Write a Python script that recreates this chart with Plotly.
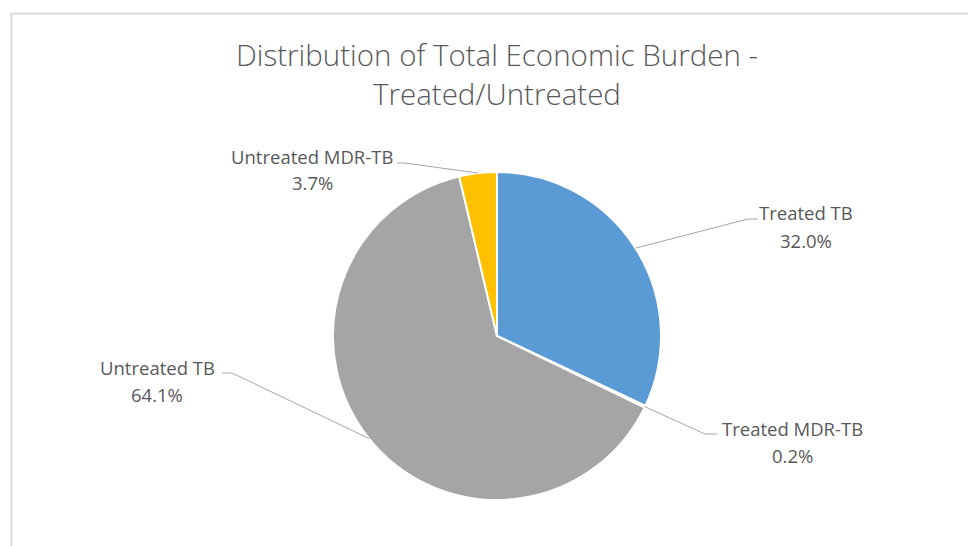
import math
import plotly.graph_objects as go

# Share of total economic burden, in slice order (clockwise from 12 o'clock)
categories = ["Treated TB", "Treated MDR-TB", "Untreated TB", "Untreated MDR-TB"]
shares = [32.0, 0.2, 64.1, 3.7]
colors = ["#5B9BD5", "#ED7D31", "#A5A5A5", "#FFC000"]

W, H = 968, 546
CX, CY, R = 497, 336, 164          # pie centre and radius in pixels
TEXT = "#595959"
LEADER = "#A6A6A6"
FONT = "Open Sans"


def fx(px):
    return px / W


def fy(py):
    return 1 - py / H


# Label placement: (label centre x, name line y, elbow point, horizontal stub end)
label_layout = {
    "Treated TB":       dict(cx=806, y=213, elbow=(748, 219), stub=(758, 219)),
    "Treated MDR-TB":   dict(cx=792, y=428, elbow=(705, 434), stub=(717, 434)),
    "Untreated TB":     dict(cx=157, y=367, elbow=(232, 373), stub=(222, 373)),
    "Untreated MDR-TB": dict(cx=312, y=156, elbow=(405, 163), stub=(397, 163)),
}

fig = go.Figure(
    go.Pie(
        labels=categories,
        values=shares,
        sort=False,
        direction="clockwise",
        rotation=0,
        marker=dict(colors=colors, line=dict(color="white", width=2)),
        textinfo="none",
        hoverinfo="label+percent",
        showlegend=False,
        domain=dict(x=[fx(CX - R), fx(CX + R)], y=[fy(CY + R), fy(CY - R)]),
    )
)

shapes = [
    # chart area frame
    dict(type="rect", xref="paper", yref="paper",
         x0=fx(11.5), y0=fy(560), x1=fx(990), y1=fy(13.5),
         line=dict(color="#D9D9D9", width=2), fillcolor="rgba(0,0,0,0)", layer="below"),
]
annotations = []

total = sum(shares)
cum = 0.0
for name, val in zip(categories, shares):
    mid = (cum + val / 2) / total * 2 * math.pi
    cum += val
    ex = CX + R * math.sin(mid)
    ey = CY - R * math.cos(mid)
    lay = label_layout[name]
    (bx, by), (sx, sy) = lay["elbow"], lay["stub"]
    path = f"M {fx(ex)} {fy(ey)} L {fx(bx)} {fy(by)} L {fx(sx)} {fy(sy)}"
    shapes.append(dict(type="path", xref="paper", yref="paper", path=path,
                       line=dict(color=LEADER, width=1)))
    annotations.append(dict(x=fx(lay["cx"]), y=fy(lay["y"]), xref="paper", yref="paper",
                            text=name, showarrow=False, xanchor="center", yanchor="middle",
                            font=dict(family=FONT, size=18.5, color=TEXT)))
    annotations.append(dict(x=fx(lay["cx"]), y=fy(lay["y"] + 27), xref="paper", yref="paper",
                            text=f"{val / total * 100:.1f}%", showarrow=False,
                            xanchor="center", yanchor="middle",
                            font=dict(family=FONT, size=18.5, color=TEXT)))

# two-line title
for line, ty in (("Distribution of Total Economic Burden -", 55), ("Treated/Untreated", 93)):
    annotations.append(dict(x=fx(497), y=fy(ty), xref="paper", yref="paper", text=line,
                            showarrow=False, xanchor="center", yanchor="middle",
                            font=dict(family=FONT, size=29.5, color=TEXT, weight=300)))

fig.update_layout(
    width=W, height=H,
    margin=dict(l=0, r=0, t=0, b=0),
    paper_bgcolor="white", plot_bgcolor="white",
    shapes=shapes, annotations=annotations,
)

fig.write_html("out.html")
